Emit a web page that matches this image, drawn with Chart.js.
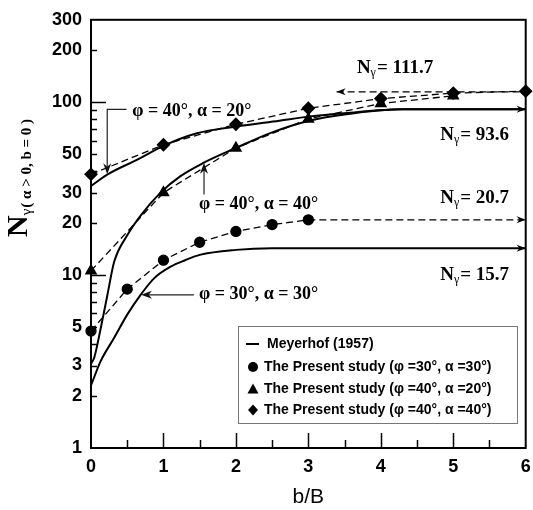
<!DOCTYPE html>
<html><head><meta charset="utf-8">
<script src="https://cdn.jsdelivr.net/npm/chart.js@4.4.1/dist/chart.umd.min.js"></script>
<style>html,body{margin:0;padding:0;background:#fff;}</style>
</head><body>
<canvas id="c" width="533" height="510"></canvas>
<script>
// ---------- data ----------
const xTickValues = [0,0.5,1,1.5,2,2.5,3,3.5,4,4.5,5,5.5,6];
const xTickLabels = [0,1,2,3,4,5,6];
const yTickValues = [1,2,3,4,5,6,7,8,9,10,20,30,40,50,60,70,80,90,100,200,300];
const yTickLabels = [1,2,3,5,10,20,30,50,100,200,300];

// The Present study (phi=30, alpha=30) - circles
const circleX = [0,0.5,1,1.5,2,2.5,3];
const circleY = [4.75,8.3,12.2,15.5,17.9,19.6,20.9];
// The Present study (phi=40, alpha=20) - triangles
const triX = [0,1,2,3,4,5];
const triY = [10.6,30,54.4,80,98.4,109];
// The Present study (phi=40, alpha=40) - diamonds
const diaX = [0,1,2,3,4,5,6];
const diaY = [38.3,56.8,74.6,92.3,105,113,116];

// Meyerhof (1957) curves
const mey30X = [0,0.135,0.32,0.5,0.685,0.87,1.1,1.3,1.5,2.0,2.5,6];
const mey30Y = [2.3,3.19,4.34,5.91,7.69,9.58,11.2,12.2,13.1,14.0,14.3,14.3];
const meyMidX = [0,0.044,0.135,0.227,0.319,0.5,0.685,0.96,1.235,1.557,2.0,2.5,3.0,3.5,4.3,6];
const meyMidY = [3.07,3.33,4.95,7.7,11.9,17.0,22.1,30.0,37.4,44.7,54.4,67,78,85,91,91];
const meyTopX = [0,0.23,0.64,1.0,1.45,2.0,2.6,3.0,3.5,4.3,6];
const meyTopY = [32.8,38.3,46.6,56,66,72.4,78.3,82.6,86.5,91,91];

// asymptote guide lines
const asym111X = [3.39,6];
const asym111Y = [115,115];
const asym20X = [3,6];
const asym20Y = [20.9,20.9];

const SERIF = '"Liberation Serif","Times New Roman",serif';
const SANS = '"Liberation Sans",Arial,sans-serif';
const pts = (xs, ys) => xs.map((x, i) => ({x: x, y: ys[i]}));

function arrowHead(ctx, x, y, angle, len, half) {
  len = len || 9; half = half || 3.5;
  ctx.save();
  ctx.translate(x, y); ctx.rotate(angle);
  ctx.beginPath();
  ctx.moveTo(0, 0); ctx.lineTo(-len, -half); ctx.lineTo(-len * 0.7, 0); ctx.lineTo(-len, half);
  ctx.closePath(); ctx.fill();
  ctx.restore();
}

function drawNg(ctx, x, y, val) {
  ctx.save();
  ctx.fillStyle = '#000';
  ctx.textBaseline = 'alphabetic';
  ctx.font = 'bold 19px ' + SERIF;
  const base = y + 6;
  ctx.fillText('N', x, base);
  let cx = x + ctx.measureText('N').width;
  ctx.font = '12px ' + SERIF;
  ctx.fillText('\u03b3', cx, base + 3);
  cx += ctx.measureText('\u03b3').width + 1;
  ctx.font = 'bold 19px ' + SERIF;
  ctx.fillText('= ' + val, cx, base);
  ctx.restore();
}

const decorPlugin = {
  id: 'decor',
  beforeDatasetsDraw(chart) {
    const ctx = chart.ctx, a = chart.chartArea;
    const xs = chart.scales.x, ys = chart.scales.y;
    ctx.save();
    ctx.strokeStyle = '#000';
    ctx.lineWidth = 1.5;
    ys.ticks.forEach(t => {
      const v = t.value;
      if (v <= 1 || v >= 300) return;
      const p = Math.round(ys.getPixelForValue(v)) + 0.5;
      const len = (v === 10 || v === 100) ? 15 : 6;
      ctx.beginPath(); ctx.moveTo(a.left, p); ctx.lineTo(a.left + len, p); ctx.stroke();
    });
    xs.ticks.forEach(t => {
      const v = t.value;
      if (v <= 0 || v >= 6) return;
      const p = Math.round(xs.getPixelForValue(v)) + 0.5;
      const len = Number.isInteger(v) ? 15 : 8;
      ctx.beginPath(); ctx.moveTo(p, a.bottom); ctx.lineTo(p, a.bottom - len); ctx.stroke();
    });
    ctx.lineWidth = 2;
    ctx.strokeRect(a.left, a.top, a.right - a.left, a.bottom - a.top);
    ctx.restore();
  },
  afterDatasetsDraw(chart) {
    const ctx = chart.ctx, a = chart.chartArea;
    const xs = chart.scales.x, ys = chart.scales.y;
    const X = v => xs.getPixelForValue(v), Y = v => ys.getPixelForValue(v);
    ctx.save();
    ctx.fillStyle = '#000';
    ctx.strokeStyle = '#000';
    arrowHead(ctx, X(6), Y(meyTopY[meyTopY.length - 1]), 0);
    arrowHead(ctx, X(6), Y(mey30Y[mey30Y.length - 1]), 0);
    arrowHead(ctx, X(6), Y(asym20Y[1]), 0);
    arrowHead(ctx, X(asym111X[0]), Y(asym111Y[0]), Math.PI);

    ctx.lineWidth = 1.2;
    ctx.strokeStyle = '#222';
    ctx.fillStyle = '#111';
    ctx.beginPath();
    ctx.moveTo(X(0.49), Y(91)); ctx.lineTo(X(0.224), Y(91)); ctx.lineTo(X(0.224), Y(38.3) - 6);
    ctx.stroke();
    arrowHead(ctx, X(0.224), Y(38.3), Math.PI / 2, 11, 4);
    ctx.beginPath();
    ctx.moveTo(X(1.56), Y(29.3)); ctx.lineTo(X(1.56), Y(44.7) + 6);
    ctx.stroke();
    arrowHead(ctx, X(1.56), Y(44.7), -Math.PI / 2, 11, 4);
    ctx.beginPath();
    ctx.moveTo(X(1.42), Y(7.69)); ctx.lineTo(X(0.69) + 6, Y(7.69));
    ctx.stroke();
    arrowHead(ctx, X(0.69), Y(7.69), Math.PI, 11, 4);

    ctx.fillStyle = '#000';
    ctx.font = 'bold 18px ' + SERIF;
    ctx.textBaseline = 'middle';
    ctx.textAlign = 'left';
    ctx.fillText('\u03c6 = 40\u00b0, \u03b1 = 20\u00b0', X(0.57), Y(88.6));
    ctx.fillText('\u03c6 = 40\u00b0, \u03b1 = 40\u00b0', X(1.49), Y(25.6));
    ctx.fillText('\u03c6 = 30\u00b0, \u03b1 = 30\u00b0', X(1.49), Y(7.72));
    drawNg(ctx, X(3.67), Y(160), '111.7');
    drawNg(ctx, X(4.82), Y(65.4), '93.6');
    drawNg(ctx, X(4.82), Y(28.5), '20.7');
    drawNg(ctx, X(4.82), Y(10.1), '15.7');

    // legend
    const lx = 238, ly = 326, lw = 279, lh = 97;
    ctx.fillStyle = '#fff';
    ctx.fillRect(lx, ly, lw, lh);
    ctx.strokeStyle = '#777';
    ctx.lineWidth = 1;
    ctx.strokeRect(lx + 0.5, ly + 0.5, lw, lh);
    const items = chart.data.datasets.filter(d => d.legendKind);
    const rowY = [344, 367, 389, 410];
    ctx.fillStyle = '#000';
    ctx.strokeStyle = '#000';
    ctx.textBaseline = 'middle';
    ctx.font = 'bold 14px ' + SANS;
    items.forEach((d, i) => {
      const y = rowY[i], sx = 253;
      if (d.legendKind === 'line') {
        ctx.lineWidth = 2;
        ctx.beginPath(); ctx.moveTo(sx - 7, y); ctx.lineTo(sx + 6, y); ctx.stroke();
        ctx.fillText(d.label, 267, y);
      } else {
        ctx.beginPath();
        if (d.legendKind === 'circle') ctx.arc(sx, y, 5, 0, Math.PI * 2);
        if (d.legendKind === 'triangle') { ctx.moveTo(sx, y - 5.5); ctx.lineTo(sx + 5.5, y + 4.5); ctx.lineTo(sx - 5.5, y + 4.5); ctx.closePath(); }
        if (d.legendKind === 'diamond') { ctx.moveTo(sx, y - 5.5); ctx.lineTo(sx + 5, y); ctx.lineTo(sx, y + 5.5); ctx.lineTo(sx - 5, y); ctx.closePath(); }
        ctx.fill();
        ctx.fillText(d.label, 264, y);
      }
    });

    ctx.font = '21px ' + SANS;
    ctx.textAlign = 'center';
    ctx.textBaseline = 'middle';
    ctx.fillText('b/B', (a.left + a.right) / 2, 497);

    ctx.save();
    ctx.translate(27, 237);
    ctx.rotate(-Math.PI / 2);
    ctx.textAlign = 'left';
    ctx.textBaseline = 'alphabetic';
    ctx.font = 'bold 30px ' + SERIF;
    ctx.fillText('N', 0, 0);
    let cx = ctx.measureText('N').width;
    ctx.font = '15px ' + SERIF;
    ctx.fillText('\u03b3', cx, 4);
    cx += ctx.measureText('\u03b3').width + 1;
    ctx.font = 'bold 15px ' + SERIF;
    ctx.fillText('( \u03b1 > 0, b = 0 )', cx, 4);
    ctx.restore();

    ctx.restore();
  }
};

const solid = {borderColor: '#000', borderWidth: 2, pointRadius: 0, cubicInterpolationMode: 'monotone', fill: false};
const dashed = {borderColor: '#000', backgroundColor: '#000', borderWidth: 1.3, borderDash: [7, 4], pointRadius: 0, tension: 0, fill: false, clip: false};

new Chart(document.getElementById('c'), {
  type: 'line',
  data: {
    datasets: [
      Object.assign({label: 'Meyerhof (1957)', legendKind: 'line', data: pts(mey30X, mey30Y)}, solid),
      Object.assign({label: 'Meyerhof mid', data: pts(meyMidX, meyMidY)}, solid),
      Object.assign({label: 'Meyerhof top', data: pts(meyTopX, meyTopY)}, solid),
      Object.assign({}, dashed, {label: 'The Present study (\u03c6 =30\u00b0, \u03b1 =30\u00b0)', legendKind: 'circle', data: pts(circleX, circleY), pointStyle: 'circle', pointRadius: 5}),
      Object.assign({}, dashed, {label: 'The Present study (\u03c6 =40\u00b0, \u03b1 =20\u00b0)', legendKind: 'triangle', data: pts(triX, triY), pointStyle: 'triangle', pointRadius: 6}),
      Object.assign({}, dashed, {label: 'The Present study (\u03c6 =40\u00b0, \u03b1 =40\u00b0)', legendKind: 'diamond', data: pts(diaX, diaY), pointStyle: 'rectRot', pointRadius: 6}),
      Object.assign({}, dashed, {label: 'asym 111.7', data: pts(asym111X, asym111Y)}),
      Object.assign({}, dashed, {label: 'asym 20.7', data: pts(asym20X, asym20Y)})
    ]
  },
  options: {
    responsive: false,
    animation: false,
    devicePixelRatio: 1,
    layout: {padding: {top: 15, right: 6, left: 0, bottom: 0}},
    plugins: {legend: {display: false}, tooltip: {enabled: false}},
    elements: {point: {borderWidth: 0}},
    scales: {
      x: {
        type: 'linear', min: 0, max: 6,
        border: {display: false},
        grid: {display: false, drawTicks: false},
        afterBuildTicks: s => { s.ticks = xTickValues.map(v => ({value: v})); },
        afterFit: s => { s.height = 62; },
        ticks: {
          autoSkip: false, maxRotation: 0, padding: 0, color: '#000',
          font: {family: SANS, weight: 'bold', size: 18, lineHeight: 2.1},
          callback: v => xTickLabels.includes(v) ? String(v) : ''
        }
      },
      y: {
        type: 'logarithmic', min: 1, max: 300,
        border: {display: false},
        grid: {display: false, drawTicks: false},
        afterBuildTicks: s => { s.ticks = yTickValues.map(v => ({value: v})); },
        afterFit: s => { s.width = 91; },
        ticks: {
          autoSkip: false, padding: 9, color: '#000',
          font: {family: SANS, weight: 'bold', size: 18},
          callback: v => yTickLabels.includes(v) ? String(v) : ''
        }
      }
    }
  },
  plugins: [decorPlugin]
});
</script>
</body></html>
